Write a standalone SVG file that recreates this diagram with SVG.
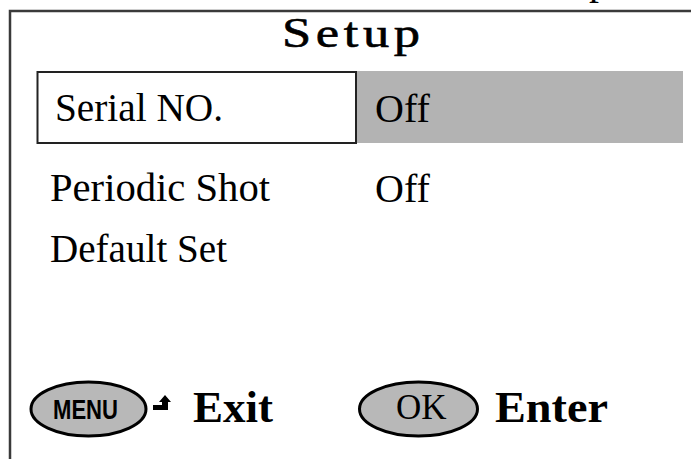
<svg xmlns="http://www.w3.org/2000/svg" width="691" height="459" viewBox="0 0 691 459">
<style>
.lbl{font-family:"Liberation Serif","Times New Roman",serif;font-size:40px;fill:#000}
.bold{font-family:"Liberation Serif","Times New Roman",serif;font-weight:bold;font-size:45px;fill:#000}
.btn{fill:#b8b8b8;stroke:#000;stroke-width:3}
</style>
<rect width="691" height="459" fill="#fff"/>
<text class="lbl" x="589" y="-6">p</text>
<g id="frame">
<path d="M10 459 V11 H691" fill="none" stroke="#3a3a3a" stroke-width="2.5"/>
</g>
<g id="title" transform="translate(282 47) scale(1.25 1)">
<text x="0" y="0" textLength="110.4" lengthAdjust="spacing" style="font-family:'Liberation Serif','Times New Roman',serif;font-size:42px;fill:#000;stroke:#000;stroke-width:0.6">Setup</text>
</g>
<g id="row-serial">
<rect x="356" y="71" width="327" height="72" fill="#b3b3b3"/>
<rect x="37.5" y="72" width="318.5" height="71" fill="#fff" stroke="#222" stroke-width="2"/>
<text class="lbl" x="55" y="121" textLength="168" lengthAdjust="spacingAndGlyphs">Serial NO.</text>
<text class="lbl" x="375" y="122">Off</text>
</g>
<g id="row-periodic">
<text class="lbl" x="50" y="201" textLength="220" lengthAdjust="spacingAndGlyphs">Periodic Shot</text>
<text class="lbl" x="375" y="202">Off</text>
</g>
<g id="row-default">
<text class="lbl" x="50" y="262" textLength="177" lengthAdjust="spacingAndGlyphs">Default Set</text>
</g>
<g id="menu-button">
<ellipse class="btn" cx="88.5" cy="409" rx="57.5" ry="27"/>
<text x="53" y="419" textLength="65" lengthAdjust="spacingAndGlyphs" style="font-family:'Liberation Sans',Arial,sans-serif;font-weight:bold;font-size:27px;fill:#000">MENU</text>
<path d="M153 405 H162 V402 H159 L165 395 L171 402 H168 V410 H153 Z" fill="#000"/>
<text class="bold" x="193" y="422" textLength="80" lengthAdjust="spacingAndGlyphs">Exit</text>
</g>
<g id="ok-button">
<ellipse class="btn" cx="418.5" cy="409" rx="59" ry="27"/>
<text class="lbl" x="396" y="419" style="font-size:35px">OK</text>
<text class="bold" x="495" y="422" textLength="113" lengthAdjust="spacingAndGlyphs">Enter</text>
</g>
</svg>
